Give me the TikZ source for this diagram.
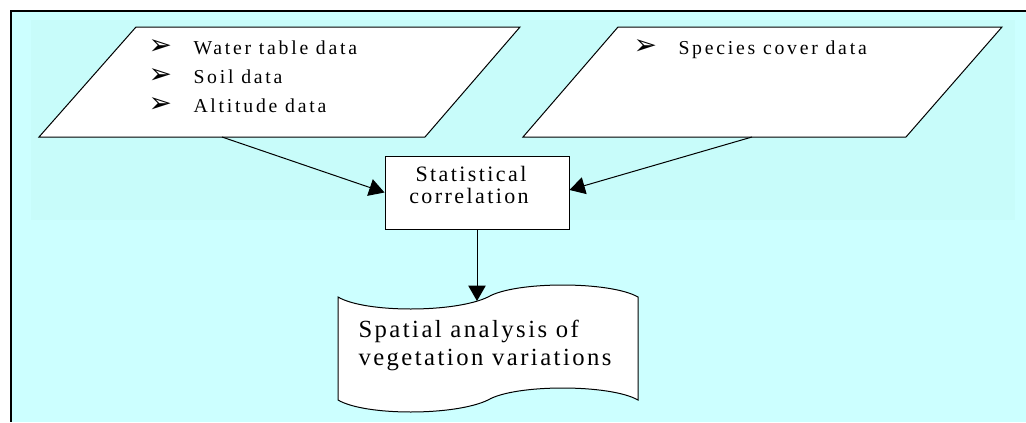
\documentclass[tikz,border=0pt]{standalone}
\usepackage{fontspec}
\setmainfont{Liberation Serif}
\newfontfamily\bulfont[LetterSpace=14]{Liberation Serif}
\newfontfamily\boxfont[LetterSpace=11]{Liberation Serif}
\newfontfamily\docfont[LetterSpace=10]{Liberation Serif}
\newfontfamily\symfont{DejaVu Sans}
\usetikzlibrary{arrows.meta}
\definecolor{bgcyan}{HTML}{CCFFFF}
\definecolor{bgin}{HTML}{C8FCFA}
\newcommand{\bularrow}{\makebox[33.75pt][l]{\symfont\fontsize{21}{21}\selectfont ➢}}
\begin{document}
\begin{tikzpicture}[x=0.75pt,y=-0.75pt, line width=0.75pt,
  shapeline/.style={draw=black, fill=white, line width=0.75pt},
  conn/.style={-{Triangle[length=11.5pt,width=13pt]}, line width=0.75pt},
  bullet/.style={anchor=base west, inner sep=0pt, font=\bulfont\fontsize{14.8}{16}\selectfont},
  boxtext/.style={anchor=base, inner sep=0pt, font=\boxfont\fontsize{16.5}{18}\selectfont},
  doctext/.style={anchor=base west, inner sep=0pt, font=\docfont\fontsize{18.5}{21}\selectfont}]
\useasboundingbox (0,0) rectangle (1026,422);
\fill[bgcyan] (10,10) rectangle (1026,422);
\fill[bgin] (31,20) rectangle (1015,220);
\draw[line width=1.5pt] (1026,10.5) -- (10,10.5);
\draw[line width=2.2pt] (11,10) -- (11,422);
% input parallelograms
\draw[shapeline] (136,27) -- (520,27) -- (425,137) -- (39,137) -- cycle;
\draw[shapeline] (618,27) -- (1002,27) -- (906,137) -- (523,137) -- cycle;
\coordinate (src1) at (222,137);
\coordinate (src2) at (752,137);
\node[bullet] (b1) at (148,54) {\bularrow Water table data};
\node[bullet] (b2) at (148,83) {\bularrow Soil data};
\node[bullet] (b3) at (148,112) {\bularrow Altitude data};
\node[bullet] (b4) at (633,54) {\bularrow Species cover data};
% process box
\node[draw, fill=white, minimum width=138pt, minimum height=54.75pt, inner sep=0pt] (stat) at (477,192.5) {};
\node[boxtext] (s1) at (471,181) {Statistical};
\node[boxtext] (s2) at (469,203) {correlation};
% document (tape) shape
\draw[shapeline] (338,297) .. controls (365,313) and (455,313) .. (488,297)
  .. controls (515,281) and (610,281) .. (638,297) -- (638,400)
  .. controls (610,384) and (515,384) .. (488,400)
  .. controls (455,416) and (365,416) .. (338,400) -- cycle;
\coordinate (doctop) at (477,301);
\node[doctext] (d1) at (358,337) {Spatial analysis of};
\node[doctext] (d2) at (358,365) {vegetation variations};
% connectors
\draw[conn] (src1) -- (stat.west);
\draw[conn] (src2) -- ([yshift=1.9pt]stat.east);
\draw[conn] (stat.south) -- (doctop);
\end{tikzpicture}
\end{document}
